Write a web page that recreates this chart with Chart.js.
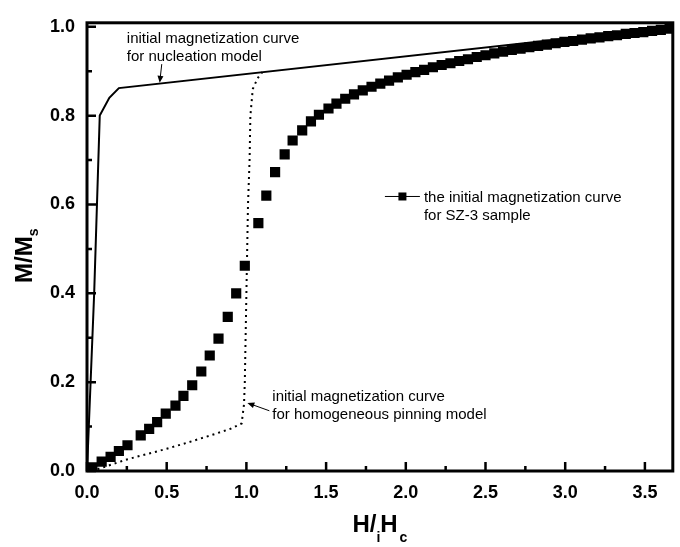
<!DOCTYPE html>
<html>
<head>
<meta charset="utf-8">
<script src="https://cdn.jsdelivr.net/npm/chart.js@4"></script>
<style>
html,body{margin:0;padding:0;background:#fff;}
#wrap{width:680px;height:547px;position:relative;}
</style>
</head>
<body>
<div id="wrap"><canvas id="c" width="680" height="547"></canvas></div>
<script>
// ---- data ----
const nucH = [0, 0.045, 0.08, 0.14, 0.2, 3.675];
const nucM = [0, 0.4, 0.8, 0.84, 0.862, 1.0];

const pinH = [0.03, 0.1, 0.25, 0.5, 0.64, 0.8, 0.9, 0.97, 0.985, 0.99, 0.995, 1.0, 1.005, 1.01, 1.02, 1.025, 1.04, 1.07, 1.1];
const pinM = [0.0, 0.008, 0.026, 0.05, 0.065, 0.083, 0.095, 0.107, 0.15, 0.2, 0.3, 0.4, 0.5, 0.6, 0.7, 0.8, 0.86, 0.884, 0.898];

const sampleH = [0.034,0.092,0.148,0.2,0.254,0.337,0.39,0.44,0.494,0.555,0.605,0.66,0.717,0.77,0.825,0.883,0.936,0.99,1.075,1.125,1.18,1.24,1.29,1.35,1.405,1.455,1.515,1.565,1.62,1.675,1.73,1.785,1.84,1.895,1.95,2.005,2.06,2.115,2.17,2.225,2.28,2.335,2.39,2.445,2.50,2.555,2.61,2.665,2.72,2.775,2.83,2.885,2.94,2.995,3.05,3.105,3.16,3.215,3.27,3.325,3.38,3.435,3.49,3.545,3.60,3.655];
const sampleM = [0.008,0.021,0.032,0.045,0.058,0.08,0.095,0.11,0.129,0.147,0.169,0.193,0.224,0.26,0.298,0.347,0.40,0.462,0.558,0.62,0.673,0.713,0.744,0.767,0.787,0.802,0.816,0.827,0.838,0.848,0.857,0.865,0.872,0.879,0.886,0.892,0.898,0.903,0.909,0.914,0.918,0.923,0.927,0.932,0.936,0.940,0.944,0.948,0.951,0.954,0.957,0.960,0.963,0.966,0.968,0.971,0.974,0.976,0.979,0.981,0.984,0.986,0.988,0.991,0.993,0.996];

const xTickValues = [0, 0.5, 1.0, 1.5, 2.0, 2.5, 3.0, 3.5];
const xTickLabels = ['0.0','0.5','1.0','1.5','2.0','2.5','3.0','3.5'];
const yTickValues = [0, 0.2, 0.4, 0.6, 0.8, 1.0];
const yTickLabels = ['0.0','0.2','0.4','0.6','0.8','1.0'];

const legendLines = ['the initial magnetization curve', 'for SZ-3 sample'];
const noteNucleation = ['initial magnetization curve', 'for nucleation model'];
const notePinning = ['initial magnetization curve', 'for homogeneous pinning model'];

const toPts = (xs, ys) => xs.map((x, i) => ({x: x, y: ys[i]}));

const FONT = '"Liberation Sans", Arial, sans-serif';

function arrow(ctx, x1, y1, x2, y2) {
  const ang = Math.atan2(y2 - y1, x2 - x1);
  const L = 7, W = 3;
  ctx.beginPath();
  ctx.moveTo(x1, y1);
  ctx.lineTo(x2 - Math.cos(ang) * L * 0.8, y2 - Math.sin(ang) * L * 0.8);
  ctx.lineWidth = 1;
  ctx.stroke();
  ctx.beginPath();
  ctx.moveTo(x2, y2);
  ctx.lineTo(x2 - Math.cos(ang) * L - Math.sin(ang) * W, y2 - Math.sin(ang) * L + Math.cos(ang) * W);
  ctx.lineTo(x2 - Math.cos(ang) * L + Math.sin(ang) * W, y2 - Math.sin(ang) * L - Math.cos(ang) * W);
  ctx.closePath();
  ctx.fill();
}

const decor = {
  id: 'decor',
  afterDraw(chart) {
    const ctx = chart.ctx;
    const a = chart.chartArea;
    const xs = chart.scales.x, ys = chart.scales.y;
    ctx.save();
    ctx.strokeStyle = '#000';
    ctx.fillStyle = '#000';
    // frame
    ctx.lineWidth = 3;
    ctx.strokeRect(a.left, a.top, a.right - a.left, a.bottom - a.top);
    // ticks (inward)
    ctx.lineWidth = 2.5;
    ctx.beginPath();
    xTickValues.forEach(v => {
      const px = xs.getPixelForValue(v);
      ctx.moveTo(px, a.bottom); ctx.lineTo(px, a.bottom - 9);
      const pm = xs.getPixelForValue(v + 0.25);
      if (v + 0.25 < xs.max) { ctx.moveTo(pm, a.bottom); ctx.lineTo(pm, a.bottom - 5); }
    });
    yTickValues.forEach(v => {
      const py = ys.getPixelForValue(v);
      ctx.moveTo(a.left, py); ctx.lineTo(a.left + 9, py);
      if (v + 0.1 < ys.max) {
        const pm = ys.getPixelForValue(v + 0.1);
        ctx.moveTo(a.left, pm); ctx.lineTo(a.left + 5, pm);
      }
    });
    ctx.stroke();

    // annotations
    ctx.font = '15px ' + FONT;
    ctx.textAlign = 'left';
    ctx.textBaseline = 'alphabetic';
    ctx.fillText(noteNucleation[0], xs.getPixelForValue(0.25), ys.getPixelForValue(0.964));
    ctx.fillText(noteNucleation[1], xs.getPixelForValue(0.25), ys.getPixelForValue(0.922));
    arrow(ctx, xs.getPixelForValue(0.469), ys.getPixelForValue(0.916), xs.getPixelForValue(0.456), ys.getPixelForValue(0.874));

    ctx.fillText(notePinning[0], xs.getPixelForValue(1.1625), ys.getPixelForValue(0.158));
    ctx.fillText(notePinning[1], xs.getPixelForValue(1.1625), ys.getPixelForValue(0.118));
    arrow(ctx, xs.getPixelForValue(1.144), ys.getPixelForValue(0.1356), xs.getPixelForValue(1.006), ys.getPixelForValue(0.1533));

    // legend
    const lx = xs.getPixelForValue(1.869), ly = ys.getPixelForValue(0.618);
    ctx.lineWidth = 1;
    ctx.beginPath();
    ctx.moveTo(lx, ly); ctx.lineTo(lx + 35, ly);
    ctx.stroke();
    ctx.fillRect(lx + 13.5, ly - 4, 8, 8);
    ctx.fillText(legendLines[0], lx + 39, ly + 5.5);
    ctx.fillText(legendLines[1], lx + 39, ly + 24);

    // axis titles
    ctx.font = 'bold 24px ' + FONT;
    const w1 = ctx.measureText('H/').width;
    const w3 = ctx.measureText('H').width;
    ctx.font = 'bold 14px ' + FONT;
    const w2 = ctx.measureText('i').width;
    const w4 = ctx.measureText('c').width;
    const total = w1 + w2 + w3 + w4 + 2;
    let tx = (a.left + a.right) / 2 - total / 2;
    const tb = 532;
    ctx.font = 'bold 24px ' + FONT;
    ctx.fillText('H/', tx, tb); tx += w1;
    ctx.font = 'bold 14px ' + FONT;
    ctx.fillText('i', tx, tb + 10); tx += w2;
    ctx.font = 'bold 24px ' + FONT;
    ctx.fillText('H', tx, tb); tx += w3 + 2;
    ctx.font = 'bold 14px ' + FONT;
    ctx.fillText('c', tx, tb + 10);

    // y title: M/Ms rotated
    ctx.translate(32, 283);
    ctx.rotate(-Math.PI / 2);
    ctx.font = 'bold 24px ' + FONT;
    ctx.fillText('M/M', 0, 0);
    const wm = ctx.measureText('M/M').width;
    ctx.font = 'bold 14px ' + FONT;
    ctx.fillText('s', wm, 6);
    ctx.restore();
  }
};

new Chart(document.getElementById('c'), {
  type: 'scatter',
  data: {
    datasets: [
      {
        label: 'nucleation model',
        data: toPts(nucH, nucM),
        showLine: true,
        borderColor: '#000',
        borderWidth: 2,
        pointRadius: 0,
        tension: 0,
        clip: 0
      },
      {
        label: 'homogeneous pinning model',
        data: toPts(pinH, pinM),
        showLine: true,
        borderColor: '#000',
        borderWidth: 2,
        borderDash: [2, 4],
        pointRadius: 0,
        tension: 0,
        clip: 0
      },
      {
        label: 'SZ-3 sample',
        data: toPts(sampleH, sampleM),
        showLine: false,
        pointStyle: 'rect',
        pointRadius: 7.2,
        pointBorderWidth: 0,
        pointBackgroundColor: '#000',
        pointBorderColor: '#000',
        clip: 0
      }
    ]
  },
  options: {
    responsive: false,
    animation: false,
    devicePixelRatio: 1,
    layout: { padding: { left: 0, top: 17, right: 5, bottom: 0 } },
    plugins: { legend: { display: false }, tooltip: { enabled: false } },
    scales: {
      x: {
        type: 'linear',
        min: 0, max: 3.675,
        afterBuildTicks: s => { s.ticks = xTickValues.map(v => ({value: v})); },
        afterFit: s => { s.height = 76; },
        grid: { display: false, drawTicks: false },
        border: { display: false },
        ticks: {
          padding: 11,
          color: '#000',
          font: { family: FONT, size: 18, weight: 'bold' },
          maxRotation: 0,
          callback: (v, i) => xTickLabels[i]
        }
      },
      y: {
        type: 'linear',
        min: 0, max: 1.009,
        afterBuildTicks: s => { s.ticks = yTickValues.map(v => ({value: v})); },
        afterFit: s => { s.width = 87; },
        grid: { display: false, drawTicks: false },
        border: { display: false },
        ticks: {
          padding: 12,
          color: '#000',
          font: { family: FONT, size: 18, weight: 'bold' },
          callback: (v, i) => yTickLabels[i]
        }
      }
    }
  },
  plugins: [decor]
});
</script>
</body>
</html>
